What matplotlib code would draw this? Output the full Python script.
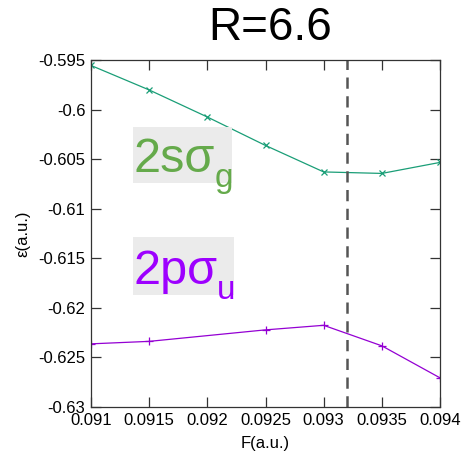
import matplotlib
matplotlib.use("Agg")
from matplotlib import pyplot as plt
from matplotlib.patches import Rectangle

plt.rcParams['font.family'] = ['Liberation Sans', 'DejaVu Sans']

# 数据
F_sg = [0.091, 0.0915, 0.092, 0.0925, 0.093, 0.0935, 0.094]
E_sg = [-0.59555, -0.59802, -0.60075, -0.60362, -0.60629, -0.60644, -0.60533]
F_pu = [0.091, 0.0915, 0.0925, 0.093, 0.0935, 0.094]
E_pu = [-0.62363, -0.62338, -0.62222, -0.62176, -0.62383, -0.62706]
F_cross = 0.0932
xticks = [0.091, 0.0915, 0.092, 0.0925, 0.093, 0.0935, 0.094]
xtick_labels = ['0.091', '0.0915', '0.092', '0.0925', '0.093', '0.0935', '0.094']
yticks = [-0.63, -0.625, -0.62, -0.615, -0.61, -0.605, -0.6, -0.595]
ytick_labels = ['-0.63', '-0.625', '-0.62', '-0.615', '-0.61', '-0.605', '-0.6', '-0.595']

fig = plt.figure(figsize=(4.69, 4.63), dpi=100)
ax = fig.add_axes([91/469, 1-407/463, 349/469, 347/463])

ax.plot(F_sg, E_sg, color='#1a9e77', lw=0.9, marker='x', ms=5, mew=0.9)
ax.plot(F_pu, E_pu, color='#9400d3', lw=0.9, marker='+', ms=6, mew=0.9)
ax.axvline(F_cross, color='#555555', lw=1.8, ls=(0, (4.5, 3)))

ax.set_xlim(0.091, 0.094)
ax.set_ylim(-0.63, -0.595)
ax.set_xticks(xticks)
ax.set_xticklabels(xtick_labels)
ax.set_yticks(yticks)
ax.set_yticklabels(ytick_labels)
ax.tick_params(direction='in', length=7, width=0.9, color='#333333',
               top=True, right=True, labelsize=12, pad=4)
for s in ax.spines.values():
    s.set_color('#333333')
    s.set_linewidth(0.9)

ax.set_xlabel('F(a.u.)', fontsize=12, labelpad=6)
ax.set_ylabel('ε(a.u.)', fontsize=12, labelpad=6)

# 标题
fig.text(270/469, 1-28/463, 'R=6.6', fontsize=33, ha='center', va='center')

# 轨道标签
def label(x0, y0, x1, y1, main, sub, color):
    fig.patches.append(Rectangle((x0/469, 1-y1/463), (x1-x0)/469, (y1-y0)/463,
                                 transform=fig.transFigure, facecolor='#ebebeb',
                                 edgecolor='none', zorder=3))
    fig.text((x0+1)/469, 1-(y1-11)/463, main, fontsize=35, color=color,
             ha='left', va='baseline', zorder=4)
    fig.text((x1-17)/469, 1-(y1+4)/463, sub, fontsize=24, color=color,
             ha='left', va='baseline', zorder=4)

label(133, 127, 232, 183, '2sσ', 'g', '#65aa4b')
label(133, 237, 234, 295, '2pσ', 'u', '#9d00ff')

plt.savefig('out.png', dpi=100)
